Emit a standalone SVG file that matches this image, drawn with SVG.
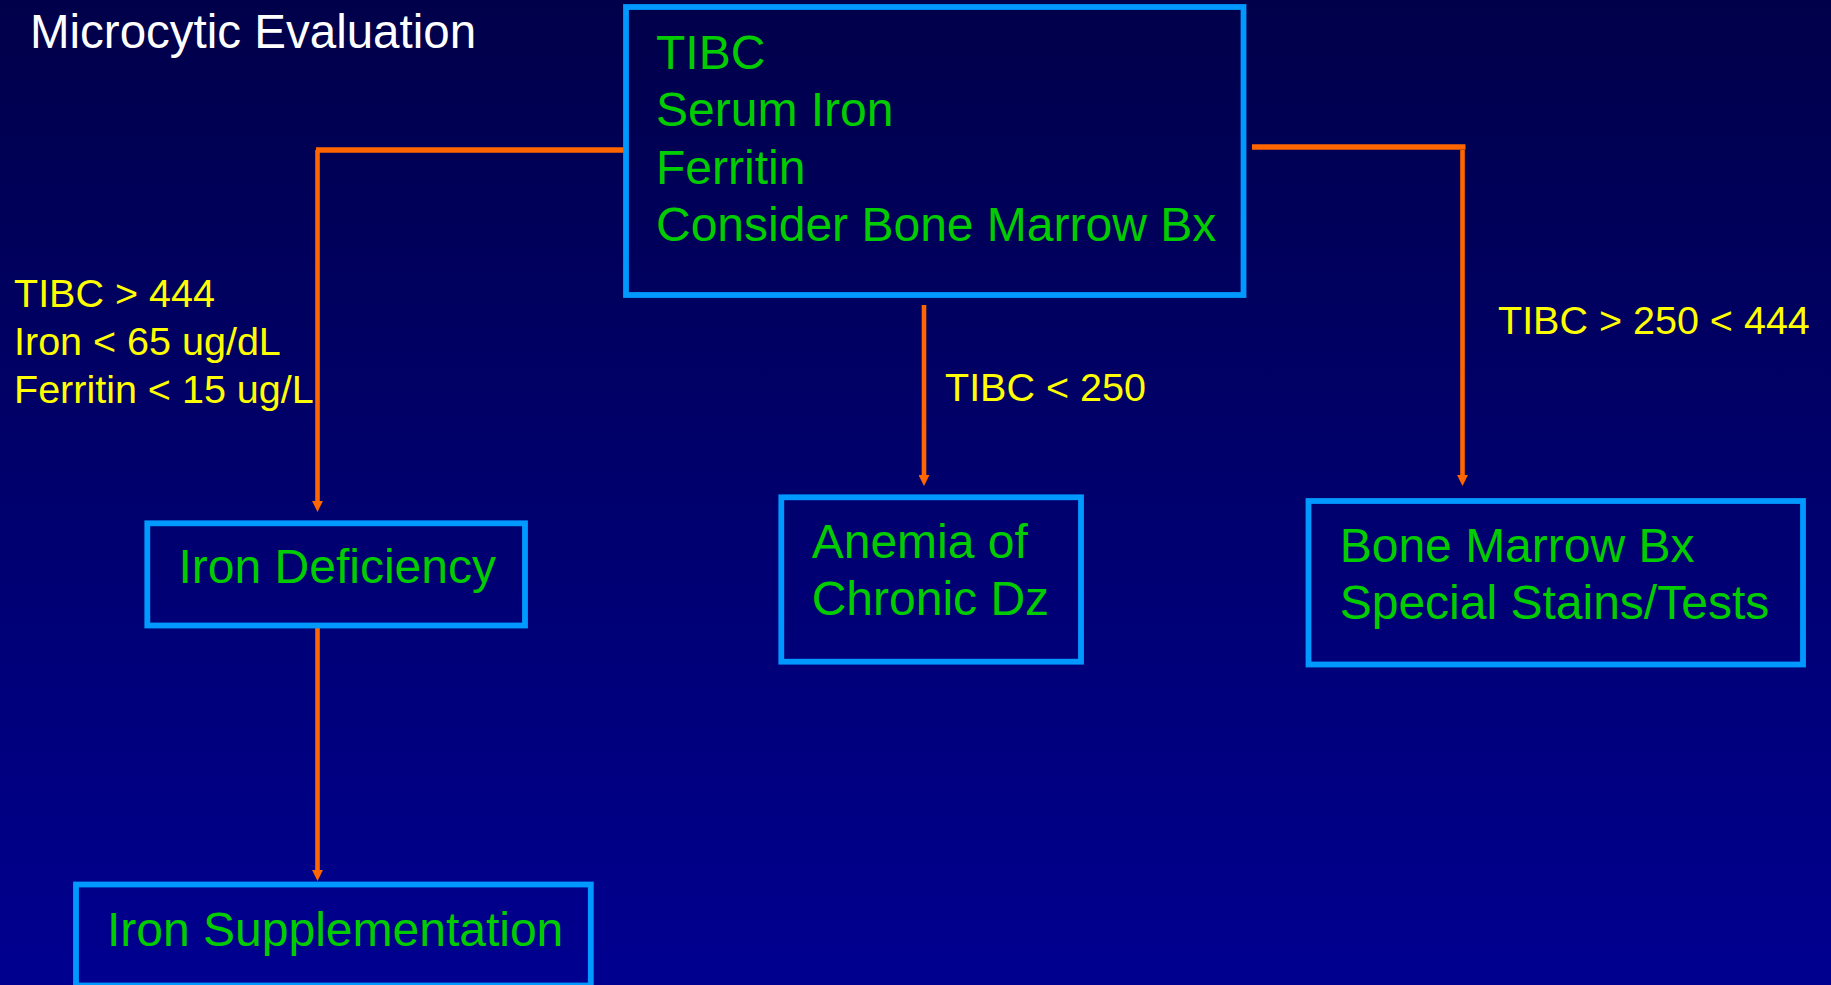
<svg xmlns="http://www.w3.org/2000/svg" width="1831" height="985" viewBox="0 0 1831 985">
  <defs>
    <linearGradient id="bg" x1="0" y1="0" x2="0" y2="1">
      <stop offset="0" stop-color="#00004A"/>
      <stop offset="1" stop-color="#000090"/>
    </linearGradient>
    <marker id="arr" markerUnits="userSpaceOnUse" markerWidth="11" markerHeight="11" refX="1" refY="5" orient="auto" viewBox="0 0 10 10">
      <path d="M0,0 L10,5 L0,10 z" fill="#FF6600"/>
    </marker>
    <style>
      text { font-family: "Liberation Sans", Arial, Helvetica, sans-serif; }
      .box { fill: none; stroke: #0099FF; stroke-width: 5.8; }
      .node { fill: #00CC00; font-size: 48px; }
      .lbl { fill: #FFFF00; font-size: 39.5px; }
      .title { fill: #FFFFFF; font-size: 47.5px; }
      .h { stroke: #FF6600; stroke-width: 5.5; fill: none; }
      .v { stroke: #FF6600; stroke-width: 4.6; fill: none; marker-end: url(#arr); }
    </style>
  </defs>
  <rect x="0" y="0" width="1831" height="985" fill="url(#bg)"/>
  <text class="title" x="30" y="48">Microcytic Evaluation</text>

  <g id="connectors">
    <line class="h" x1="625" y1="150" x2="316" y2="150"/>
    <line class="v" x1="317.5" y1="150" x2="317.5" y2="502"/>
    <line class="v" x1="924" y1="305" x2="924" y2="476"/>
    <line class="h" x1="1252" y1="147" x2="1465.5" y2="147"/>
    <line class="v" x1="1462.5" y1="150" x2="1462.5" y2="476"/>
    <line class="v" x1="317.5" y1="625" x2="317.5" y2="871"/>
  </g>

  <g id="labels">
    <text class="lbl" x="14" y="306.5">TIBC &gt; 444</text>
    <text class="lbl" x="14" y="354.5">Iron &lt; 65 ug/dL</text>
    <text class="lbl" x="14" y="403">Ferritin &lt; 15 ug/L</text>
    <text class="lbl" x="945" y="400.5">TIBC &lt; 250</text>
    <text class="lbl" x="1498" y="333.5">TIBC &gt; 250 &lt; 444</text>
  </g>

  <g id="node-tests">
    <rect class="box" x="626" y="7" width="617.5" height="288"/>
    <text class="node" x="656" y="68.5">TIBC</text>
    <text class="node" x="656" y="126">Serum Iron</text>
    <text class="node" x="656" y="184">Ferritin</text>
    <text class="node" x="656" y="240.5">Consider Bone Marrow Bx</text>
  </g>

  <g id="node-iron-deficiency">
    <rect class="box" x="147.3" y="523.3" width="377.7" height="102.2"/>
    <text class="node" x="178.5" y="583.3">Iron Deficiency</text>
  </g>

  <g id="node-anemia-chronic">
    <rect class="box" x="781.3" y="497.3" width="299.7" height="164.4"/>
    <text class="node" x="811.7" y="558.3">Anemia of</text>
    <text class="node" x="811.7" y="615">Chronic Dz</text>
  </g>

  <g id="node-bone-marrow">
    <rect class="box" x="1308.5" y="501" width="494.5" height="163.5"/>
    <text class="node" x="1339.7" y="561.7">Bone Marrow Bx</text>
    <text class="node" x="1339.7" y="619.3">Special Stains/Tests</text>
  </g>

  <g id="node-iron-supplementation">
    <rect class="box" x="76" y="884.5" width="514.8" height="101"/>
    <text class="node" x="107" y="946">Iron Supplementation</text>
  </g>
</svg>
